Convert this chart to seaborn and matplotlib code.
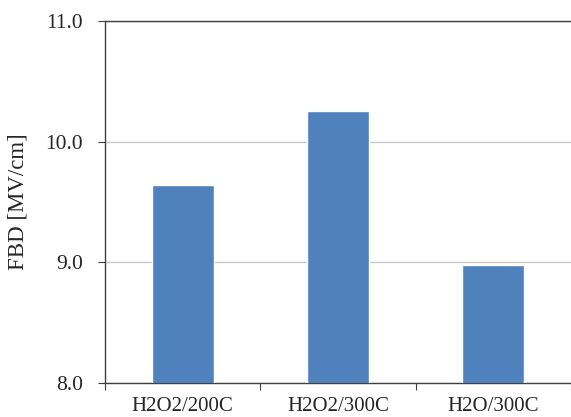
import matplotlib
matplotlib.use("Agg")
import matplotlib.pyplot as plt
import numpy as np
import pandas as pd
import seaborn as sns

# Values
conditions = ["H2O2/200C", "H2O2/300C", "H2O/300C"]
fbd_values = [9.64, 10.25, 8.975]

df = pd.DataFrame({"condition": conditions, "fbd": fbd_values})

sns.set_theme(style="white")
plt.rcParams['font.family'] = ['Liberation Serif', 'DejaVu Serif']

fig, ax = plt.subplots(figsize=(5.71, 4.17), dpi=100)
fig.subplots_adjust(left=0.184, right=1.0, top=0.95, bottom=0.081)

sns.barplot(data=df, x="condition", y="fbd", color="#4F81BD", saturation=1,
            width=0.4, ax=ax, zorder=3)

yticks = [8.0, 9.0, 10.0, 11.0]
ax.set_ylim(8.0, 11.0)
ax.set_yticks(yticks)
ax.set_yticklabels([f"{v:.1f}" for v in yticks], fontsize=15.5)
ax.set_xlim(-0.5, 2.5)
ax.set_xticks([0, 1, 2])
ax.set_xticklabels(conditions, fontsize=15)
ax.tick_params(axis="x", which="major", bottom=True, length=0, pad=10)
# boundary ticks between categories
ax.set_xticks([-0.5, 0.5, 1.5, 2.5], minor=True)
ax.tick_params(axis="x", which="minor", bottom=True, length=5, width=0.8,
               color="#404040", direction="out")
ax.tick_params(axis="y", left=True, length=5, width=0.8, color="#404040",
               direction="out", pad=11)

ax.yaxis.grid(True, color="#C8C8C8", linewidth=1.0, zorder=0)
ax.set_axisbelow(True)

for side in ["left", "bottom", "top"]:
    ax.spines[side].set_color("#404040")
    ax.spines[side].set_linewidth(1.0)
ax.spines["right"].set_visible(False)

ax.set_xlabel("")
ax.set_ylabel("FBD [MV/cm]", fontsize=16.5, labelpad=12)

fig.savefig("out.png", dpi=100)
